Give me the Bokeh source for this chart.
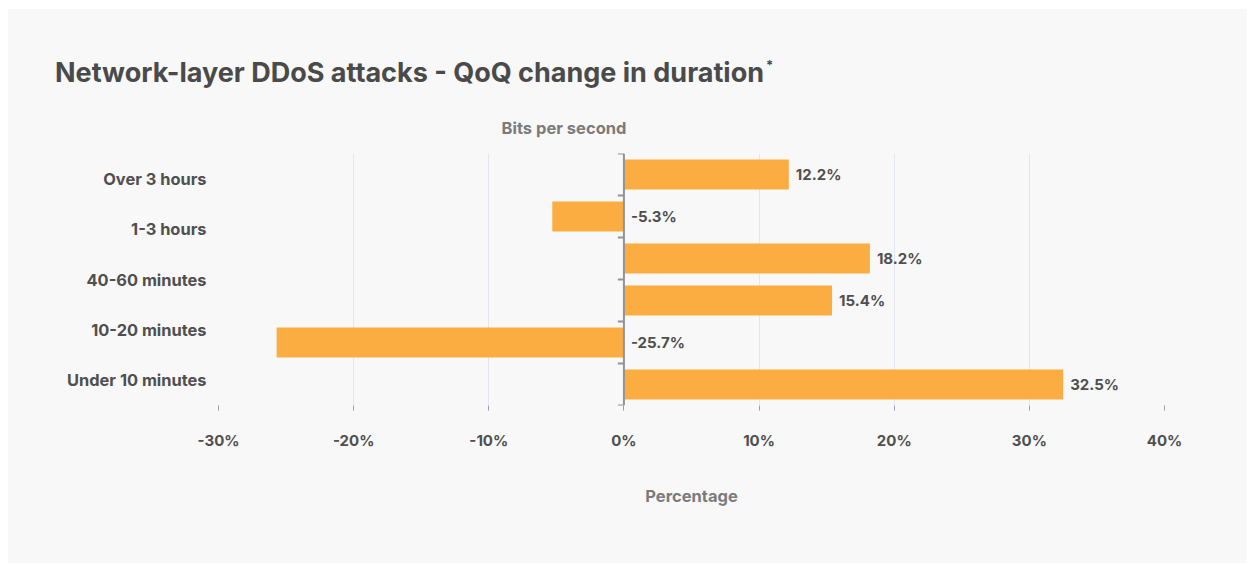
from bokeh.plotting import figure
from bokeh.layouts import column
from bokeh.models import Range1d, LinearAxis, FixedTicker, Div
from bokeh.core.properties import value
from bokeh.embed import file_html
from bokeh.resources import INLINE

# Data
duration_labels = ["Over 3 hours", "1-3 hours", "40-60 minutes", "10-20 minutes", "Under 10 minutes"]
qoq_change = [12.2, -5.3, 18.2, 15.4, -25.7, 32.5]
x_ticks = [-30, -20, -10, 0, 10, 20, 30, 40]

title_text = "Network-layer DDoS attacks - QoQ change in duration"
y_name = "Bits per second"
x_name = "Percentage"

FONT = "Inter"
BAR = "#fbad41"
TEXT = "#4f4f4f"
MUTED = "#7b7b7b"
PANEL = "#f8f8f8"

n = len(qoq_change)
centers = [i + 0.5 for i in range(n)]
edges = list(range(n + 1))

# Heading block: title with superscript mark and the y-axis name
header = Div(
    width=1239, height=140, margin=0,
    styles={"background-color": PANEL},
    text=(
        '<div style="position:relative;width:1239px;height:140px;font-family:Inter;">'
        f'<div style="position:absolute;left:47px;top:50px;line-height:1;white-space:nowrap;'
        f'font-size:27px;font-weight:700;color:#4a4a4a;">{title_text}'
        '<span style="font-size:13px;position:relative;top:-12px;margin-left:2px;">*</span></div>'
        f'<div style="position:absolute;left:556px;top:119px;transform:translate(-50%,-50%);'
        f'line-height:1;white-space:nowrap;font-size:16.5px;font-weight:700;color:{MUTED};">{y_name}</div>'
        '</div>'
    ),
)

p = figure(
    width=1239, height=414,
    x_range=Range1d(x_ticks[0], x_ticks[-1]),
    y_range=Range1d(n, 0),
    y_axis_location=None,
    output_backend="svg", toolbar_location=None,
    min_border_left=210, min_border_right=83,
    min_border_top=4, min_border_bottom=158,
    background_fill_color=PANEL, border_fill_color=PANEL,
    outline_line_color=None, margin=0,
)

# Vertical grid and bottom axis
p.xgrid.ticker = FixedTicker(ticks=x_ticks)
p.xgrid.grid_line_color = "#e1e6ef"
p.xgrid.grid_line_width = 1
p.ygrid.visible = False

xa = p.xaxis[0]
xa.ticker = FixedTicker(ticks=x_ticks)
xa.major_label_overrides = {t: f"{t}%" for t in x_ticks}
xa.axis_line_color = None
xa.major_tick_in = 0
xa.major_tick_out = 5
xa.major_tick_line_color = "#9aa0a8"
xa.minor_tick_line_color = None
xa.major_label_standoff = 20
xa.major_label_text_font = FONT
xa.major_label_text_font_size = "15px"
xa.major_label_text_font_style = "bold"
xa.major_label_text_color = TEXT
xa.axis_label = x_name
xa.axis_label_standoff = 33
xa.axis_label_text_font = FONT
xa.axis_label_text_font_size = "16.5px"
xa.axis_label_text_font_style = "bold"
xa.axis_label_text_color = MUTED

# Category labels on the left, spread evenly over the plot height
m = len(duration_labels)
label_pos = [i + 0.5 for i in range(m)]
p.extra_y_ranges = {"labels": Range1d(m, 0)}
ya = LinearAxis(y_range_name="labels", ticker=FixedTicker(ticks=label_pos))
ya.major_label_overrides = {pos: lab for pos, lab in zip(label_pos, duration_labels)}
ya.axis_line_color = None
ya.major_tick_line_color = None
ya.minor_tick_line_color = None
ya.major_label_standoff = 6
ya.major_label_text_font = FONT
ya.major_label_text_font_size = "16.4px"
ya.major_label_text_font_style = "bold"
ya.major_label_text_color = TEXT
p.add_layout(ya, "left")

# Bars
p.hbar(y=centers, left=0, right=qoq_change, height=30 / 42,
       fill_color=BAR, line_color=None)

# Zero axis with band ticks
p.segment(x0=[0], x1=[0], y0=[0], y1=[n], line_color="#8f949c", line_width=2)
p.segment(x0=[-0.45] * len(edges), x1=[0] * len(edges), y0=edges, y1=edges,
          line_color="#8f949c", line_width=2)

# Value labels
p.text(x=[max(v, 0) for v in qoq_change], y=centers,
       text=[f"{v}%" for v in qoq_change],
       x_offset=7, text_align="left", text_baseline="middle",
       text_font=value(FONT), text_font_size="15px", text_font_style="bold",
       text_color=TEXT)

page = column(header, p, spacing=0, margin=(9, 7, 2, 8),
              styles={"background-color": PANEL})

open("out.html", "w").write(file_html(page, INLINE))
